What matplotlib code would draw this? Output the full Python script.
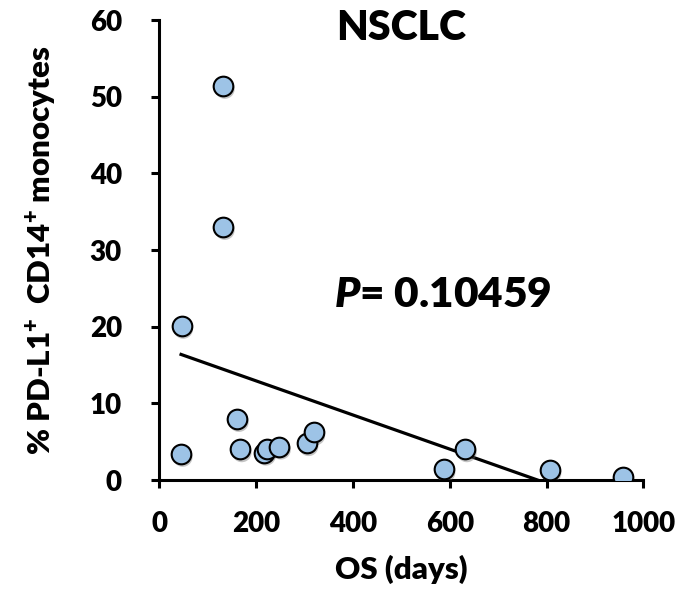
import matplotlib
matplotlib.use("Agg")
import matplotlib.pyplot as plt
import matplotlib.transforms as mtransforms
import numpy as np

plt.rcParams['font.family'] = ['Lato', 'DejaVu Sans']
plt.rcParams['font.weight'] = 'heavy'
plt.rcParams['mathtext.fontset'] = 'custom'
plt.rcParams['mathtext.rm'] = 'Lato:heavy'
plt.rcParams['mathtext.it'] = 'Lato:heavy:italic'
plt.rcParams['mathtext.bf'] = 'Lato:heavy'

# OS (days) vs % PD-L1+ CD14+ monocytes
os_days = [45, 46, 132, 132, 161, 167, 217, 222, 248, 305, 319, 588, 632, 807, 957]
pdl1_pct = [3.4, 20.1, 51.4, 33.0, 7.95, 4.0, 3.56, 4.1, 4.35, 4.8, 6.2, 1.4, 4.0, 1.3, 0.43]

x_ticks = [0, 200, 400, 600, 800, 1000]
y_ticks = [0, 10, 20, 30, 40, 50, 60]
p_value = "0.10459"

fig = plt.figure(figsize=(6.98, 5.96), dpi=100)
ax = fig.add_axes([0.2282, 0.1946, 0.6935, 0.7718])

x = np.array(os_days)
y = np.array(pdl1_pct)

# trend line (least squares), clipped by the axes at y=0
slope, icpt = np.polyfit(x, y, 1)
xs = np.array([x.min(), x.max()])
ax.plot(xs, slope * xs + icpt, color='black', lw=2.3, zorder=2)

# soft drop shadow under markers
shadow = mtransforms.offset_copy(ax.transData, fig=fig, x=1.2, y=-2.2, units='points')
ax.scatter(x, y, s=200, color='#6f6f6f', alpha=0.4, edgecolors='none',
           transform=shadow, zorder=3)
ax.scatter(x, y, s=200, color='#9dc3e6', edgecolors='black', linewidths=1.5, zorder=4)

ax.set_xlim(0, 1000)
ax.set_ylim(0, 60)
ax.set_xticks(x_ticks)
ax.set_yticks(y_ticks)
for side in ['top', 'right']:
    ax.spines[side].set_visible(False)
for side in ['left', 'bottom']:
    ax.spines[side].set_linewidth(2.2)
ax.tick_params(axis='both', direction='out', length=6, width=2.2, labelsize=20)
ax.tick_params(axis='x', pad=16)
ax.tick_params(axis='y', pad=21)
for lab in ax.get_xticklabels() + ax.get_yticklabels():
    lab.set_fontweight('heavy')

ax.set_xlabel("OS (days)", fontsize=22.5, fontweight='heavy', labelpad=13)
ax.set_ylabel("% PD-L1$^{+}$  CD14$^{+}$ monocytes", fontsize=22.5, fontweight='heavy', labelpad=21)

ax.text(500, 59, "NSCLC", ha='center', va='center', fontsize=29.5, fontweight='heavy')
ax.text(586, 24.1, "$P$= " + p_value, ha='center', va='center', fontsize=30.5, fontweight='heavy')

fig.savefig("out.png", dpi=100)
